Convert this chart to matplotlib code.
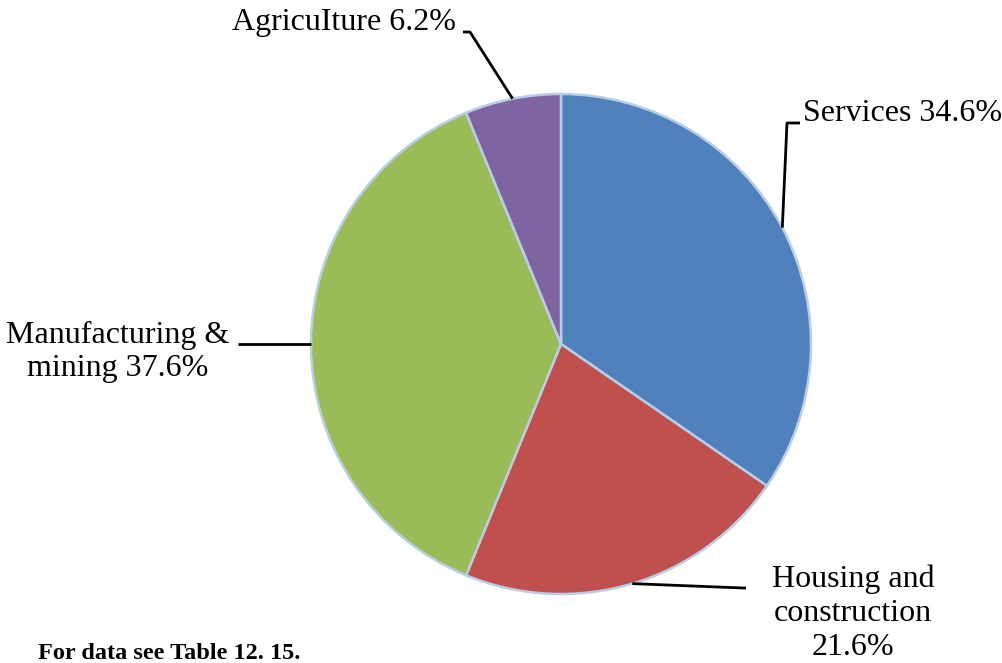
import numpy as np
import matplotlib.pyplot as plt

plt.rcParams['font.family'] = ['Liberation Serif', 'DejaVu Serif']

sectors = ["Services", "Housing and construction", "Manufacturing & mining", "Agriculture"]
shares = [34.6, 21.6, 37.6, 6.2]
labels = ["Services 34.6%", "Housing and\nconstruction\n21.6%", "Manufacturing &\nmining 37.6%", "AgricuIture 6.2%"]
colors = ["#4f81bd", "#c0504d", "#9bbb59", "#8064a2"]

W, H = 1003, 663
fig = plt.figure(figsize=(W / 100, H / 100), dpi=100)
ax = fig.add_axes([0, 0, 1, 1])

cx, cy, r = 561, H - 344, 250
wedges, _ = ax.pie(shares, colors=colors, startangle=90, counterclock=False,
                   center=(cx, cy), radius=r, frame=True,
                   wedgeprops=dict(edgecolor="#b9cde5", linewidth=1.8))
ax.set_xlim(0, W)
ax.set_ylim(0, H)
ax.set_aspect('equal')
ax.axis('off')

# leader line bends and label positions (pixel coords, y from top)
bends = [[(787, 123), (800, 123)],
         [(743, 588), (746, 588)],
         [(238, 344)],
         [(470, 32), (463, 32)]]
text_pos = [(803, 113, 'left', 'center'),
            (853, 613, 'center', 'center'),
            (118, 352, 'center', 'center'),
            (456, 22, 'right', 'center')]

for w, bend, (tx, ty, ha, va), lab in zip(wedges, bends, text_pos, labels):
    mid = np.deg2rad((w.theta1 + w.theta2) / 2)
    ex, ey = cx + r * np.cos(mid), cy + r * np.sin(mid)
    xs = [ex] + [p[0] for p in bend]
    ys = [ey] + [H - p[1] for p in bend]
    ax.plot(xs, ys, color='black', lw=2, solid_capstyle='butt', zorder=5)
    ax.text(tx, H - ty, lab, ha=ha, va=va, fontsize=23, multialignment='center',
            linespacing=1.22)

ax.text(38, H - 654, "For data see Table 12. 15.", ha='left', va='center',
        fontsize=17.5, fontweight='bold')

fig.savefig("out.png", dpi=100)
